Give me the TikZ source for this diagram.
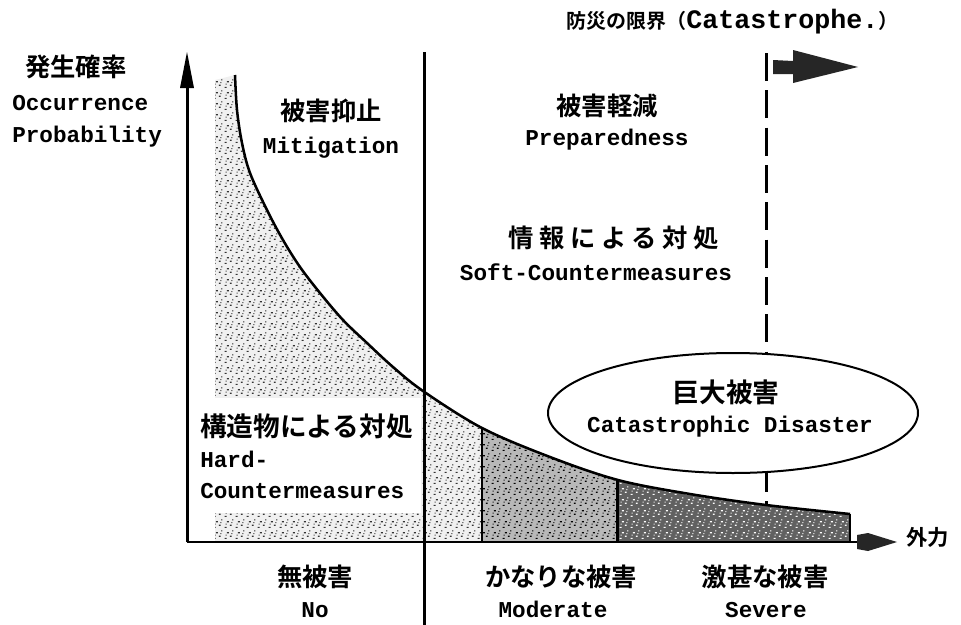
\documentclass[tikz,border=0pt]{standalone}
\usepackage{fontspec}
\newfontfamily\jp{Noto Sans CJK JP Bold}
\newfontfamily\en{Liberation Mono Bold}
\usetikzlibrary{patterns,shapes.geometric}
\pgfdeclarepatternformonly{stip}{\pgfqpoint{0pt}{0pt}}{\pgfqpoint{8pt}{8pt}}{\pgfqpoint{8pt}{8pt}}{%
  \pgfpathrectangle{\pgfqpoint{0.5pt}{0.8pt}}{\pgfqpoint{1.5pt}{0.8pt}}%
  \pgfpathrectangle{\pgfqpoint{4.6pt}{2.4pt}}{\pgfqpoint{1.3pt}{0.9pt}}%
  \pgfpathrectangle{\pgfqpoint{2.2pt}{5.2pt}}{\pgfqpoint{1.5pt}{0.8pt}}%
  \pgfpathrectangle{\pgfqpoint{6.3pt}{6.6pt}}{\pgfqpoint{1.0pt}{0.9pt}}%
  \pgfpathrectangle{\pgfqpoint{5.6pt}{4.6pt}}{\pgfqpoint{0.8pt}{0.8pt}}%
  \pgfpathrectangle{\pgfqpoint{1.2pt}{3.3pt}}{\pgfqpoint{0.9pt}{0.8pt}}%
  \pgfusepath{fill}}
\definecolor{lightst}{gray}{0.94}
\definecolor{midst}{gray}{0.72}
\definecolor{darkst}{gray}{0.38}
\begin{document}
\begin{tikzpicture}[x=0.75pt,y=-0.75pt,
  jt/.style={font=\jp\fontsize{19}{19}\selectfont, inner sep=0pt},
  et/.style={font=\en\fontsize{17}{17}\selectfont, inner sep=0pt},
  axisline/.style={line width=2.25pt},
  thinline/.style={line width=1.5pt},
  curveline/.style={line width=1.9pt},
  boundary/.style={line width=2.25pt, dash pattern=on 21pt off 7pt},
  headfill/.style={fill=black!85},
  catbox/.style={draw, ellipse, fill=white, line width=1.5pt, minimum width=277.5pt, minimum height=90pt, inner sep=0pt}
]
\useasboundingbox (0,0) rectangle (961,625);
\fill[white] (0,0) rectangle (961,625);

% named points
\coordinate (O) at (187,542);
\coordinate (Ytip) at (187,52);
\coordinate (Ybase) at (187,86);
\coordinate (Xend) at (858,542);
\coordinate (Vtop) at (424,52);
\coordinate (Vbot) at (424,625);
\coordinate (Dtop) at (766,53);
\coordinate (Dbot) at (766,505);
\coordinate (M1) at (482,428);
\coordinate (M1b) at (482,542);
\coordinate (S1) at (617,480);
\coordinate (S1b) at (617,542);
\coordinate (E1) at (850,514);
\coordinate (E1b) at (850,542);

% shaded regions under the curve
\begin{scope}
\clip (215,542) -- (215,80) -- plot[smooth,tension=0.55] coordinates {(235,75) (237,110) (242,143) (250,173) (267,210) (283,240) (300,267) (320,293) (343,320) (367,343) (393,367) (423,391) (482,428) (550,457) (618,480) (690,494) (766,505) (850,514)} -- (850,542) -- cycle;
\fill[lightst] (215,0) rectangle (482,542);
\fill[pattern=stip, pattern color=black!80] (215,0) rectangle (482,542);
\fill[midst] (482,0) rectangle (617,542);
\fill[pattern=stip, pattern color=black] (482,0) rectangle (617,542);
\fill[darkst] (617,0) rectangle (850,542);
\fill[pattern=stip, pattern color=white] (617,0) rectangle (850,542);
\end{scope}

% white area behind hard-countermeasure text
\fill[white] (190,398) rectangle (421,513);

% curve
\draw[curveline] plot[smooth,tension=0.55] coordinates {(235,75) (237,110) (242,143) (250,173) (267,210) (283,240) (300,267) (320,293) (343,320) (367,343) (393,367) (423,391) (482,428) (550,457) (618,480) (690,494) (766,505) (850,514)};

% dividers
\draw[thinline] (M1) -- (M1b);
\draw[axisline] (S1) -- (S1b);
\draw[thinline] (E1) -- (E1b);

% axes
\draw[axisline] (O) -- (Ybase);
\fill (Ytip) -- (180,88) -- (194,88) -- cycle;
\draw[thinline] (O) -- (Xend);
\fill[headfill] (857,535) -- (868,533) -- (897,542) -- (868,551) -- (857,549) -- cycle;

% vertical solid line
\draw[axisline] (Vtop) -- (Vbot);

% dashed limit line
\draw[boundary] (Dtop) -- (Dbot);
\fill[headfill] (773,60) -- (793,61) -- (793,50) -- (858,67) -- (793,83) -- (793,74) -- (773,74) -- cycle;

% ellipse
\node[catbox] (cat) at (733,413) {};
\node[jt, font=\jp\fontsize{20}{20}\selectfont] (catjp) at (726,392) {巨大被害};
\node[et, anchor=base] (caten) at (730,432) {Catastrophic Disaster};

% title
\node[inner sep=0pt, anchor=west] (title) at (566,22) {{\jp\fontsize{15}{15}\selectfont 防災の限界（}{\en\fontsize{20}{20}\selectfont Catastrophe.}{\jp\fontsize{15}{15}\selectfont ）}};

% y axis labels
\node[jt, anchor=west] (yjp) at (25,67) {発生確率};
\node[et, anchor=base west] (yen1) at (12,110) {Occurrence};
\node[et, anchor=base west] (yen2) at (12,142) {Probability};

% region labels
\node[jt] (mitjp) at (331,111) {被害抑止};
\node[et, anchor=base] (miten) at (331,153) {Mitigation};
\node[jt] (prejp) at (607,106) {被害軽減};
\node[et, anchor=base] (preen) at (607,145) {Preparedness};
\node[jt, font=\jp\fontsize{19}{19}\selectfont\addfontfeature{LetterSpace=22}] (softjp) at (614,238) {情報による対処};
\node[et, anchor=base] (soften) at (596,280) {Soft-Countermeasures};
\node[jt, anchor=west, font=\jp\fontsize{20}{20}\selectfont] (hardjp) at (200,426) {構造物による対処};
\node[et, anchor=base west] (harden1) at (200,467) {Hard-};
\node[et, anchor=base west] (harden2) at (200,498) {Countermeasures};

% x axis label
\node[jt, anchor=west, font=\jp\fontsize{16}{16}\selectfont] (xlab) at (906,537) {外力};

% damage labels
\node[jt] (nojp) at (315,577) {無被害};
\node[et, anchor=base] (noen) at (315,617) {No};
\node[jt] (modjp) at (561,577) {かなりな被害};
\node[et, anchor=base] (moden) at (553,617) {Moderate};
\node[jt] (sevjp) at (765,577) {激甚な被害};
\node[et, anchor=base] (seven) at (766,617) {Severe};
\end{tikzpicture}
\end{document}
